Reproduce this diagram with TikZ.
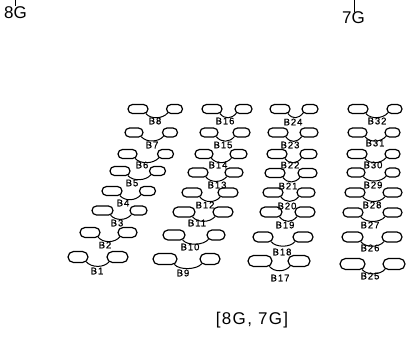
\documentclass[tikz,border=0pt]{standalone}
\usepackage{fontspec}
\setmainfont{Liberation Sans}
\usetikzlibrary{shapes.misc}
\begin{document}
\begin{tikzpicture}[x=1pt,y=-1pt,
  capsule/.style={draw, rounded rectangle, line width=1.2pt, inner sep=0pt},
  link/.style={line width=1pt},
  blab/.style={font=\fontsize{9.5}{10}\selectfont\addfontfeatures{LetterSpace=10,FakeBold=0.8}, inner sep=0pt},
  big/.style={font=\fontsize{17}{19}\selectfont, inner sep=0pt}]
\useasboundingbox (0,0) rectangle (419,349);
% name, lx, lw, rx, rw, y, label x, label y, height
\newcommand\unitB[9]{%
  \node[capsule, minimum width=#3pt, minimum height=#9pt] (#1L) at (#2,#6) {};
  \node[capsule, minimum width=#5pt, minimum height=#9pt] (#1R) at (#4,#6) {};
  \draw[link] (#1L.-30) .. controls +(5,6) and +(-5,6) .. (#1R.-150);
  \node[blab] (#1T) at (#7,#8) {#1};
}
% column 1
\unitB{B1}{78}{20}{117.5}{21}{257}{97}{271}{11}
\unitB{B2}{90}{20}{127.5}{19}{232.5}{105}{245}{10}
\unitB{B3}{102.5}{21}{138.5}{17}{210.5}{117}{223}{9}
\unitB{B4}{112}{20}{147.5}{16}{191}{123}{203}{9}
\unitB{B5}{120}{20}{157.5}{16}{171}{132}{183}{9}
\unitB{B6}{127.5}{19}{165.5}{16}{154}{142}{165}{9}
\unitB{B7}{134}{18}{170}{15}{132.5}{152}{145}{9}
\unitB{B8}{138}{20}{174.5}{16}{109}{155}{121}{9}
% column 2
\unitB{B9}{165}{24}{210}{20}{259}{183}{273}{11}
\unitB{B10}{174}{22}{216}{18}{235}{190}{247}{10}
\unitB{B11}{184}{22}{223}{20}{212}{197}{223}{10}
\unitB{B12}{192}{20}{228}{20}{192.5}{205}{205}{9}
\unitB{B13}{198}{20}{234}{18}{172.5}{217}{185}{9}
\unitB{B14}{204}{18}{238.5}{17}{154}{218}{165}{9}
\unitB{B15}{209}{18}{241.5}{17}{132.5}{223}{145}{9}
\unitB{B16}{212}{20}{243.5}{17}{109}{225}{121}{9}
% column 3
\unitB{B17}{260}{24}{299}{22}{261}{280}{278}{11}
\unitB{B18}{263}{20}{303}{20}{237}{282}{252}{10}
\unitB{B19}{271}{22}{305}{20}{212}{285}{225}{10}
\unitB{B20}{273}{20}{306}{18}{192.5}{287}{206}{9}
\unitB{B21}{275}{20}{307.5}{19}{173}{288}{186}{9}
\unitB{B22}{277}{20}{308.5}{17}{154}{290}{165}{9}
\unitB{B23}{278}{20}{309}{18}{132.5}{290}{145}{9}
\unitB{B24}{280}{20}{310}{16}{109}{293}{122}{9}
% column 4
\unitB{B25}{352.5}{25}{394}{22}{264}{370}{276}{11}
\unitB{B26}{352.5}{21}{392}{20}{237}{370}{248}{10}
\unitB{B27}{353}{20}{392.5}{19}{212.5}{370}{225}{9}
\unitB{B28}{355}{20}{392.5}{19}{192.5}{372}{205}{9}
\unitB{B29}{356}{18}{392.5}{15}{172.5}{373}{185}{9}
\unitB{B30}{357}{20}{392.5}{15}{154}{373}{165}{9}
\unitB{B31}{357.5}{19}{392.5}{15}{132.5}{375}{143}{9}
\unitB{B32}{358}{20}{394.5}{15}{109}{377}{121}{9}
% titles
\node[big] (g8) at (15.5,12.5) {8G};
\node[big] (g7) at (353.5,18) {7G};
\coordinate (t8) at (15,0);
\coordinate (t7) at (354,0);
\draw[line width=0.8pt] (t8) -- (g8.north -| t8);
\draw[line width=0.8pt] (t7) -- (g7.north -| t7);
\node[font=\fontsize{17}{19}\selectfont\addfontfeatures{LetterSpace=8}, inner sep=0pt] (caption) at (252,320) {[8G, 7G]};
\end{tikzpicture}
\end{document}
